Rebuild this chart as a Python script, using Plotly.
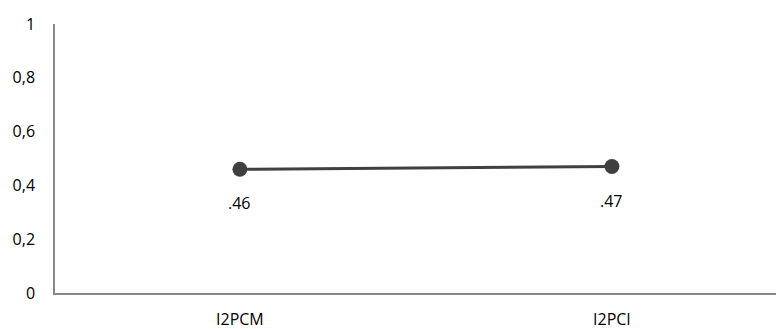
import plotly.graph_objects as go

categories = ["I2PCM", "I2PCI"]
values = [0.46, 0.47]
value_labels = [".46", ".47"]
y_ticks = [0, 0.2, 0.4, 0.6, 0.8, 1]
y_tick_labels = ["0", "0,2", "0,4", "0,6", "0,8", "1"]

FONT = "Open Sans"

fig = go.Figure()
fig.add_trace(go.Scatter(
    x=categories, y=values, mode="lines+markers",
    line=dict(color="#404040", width=3),
    marker=dict(color="#404040", size=15),
    hoverinfo="skip", showlegend=False,
))
for c, v, t in zip(categories, values, value_labels):
    fig.add_annotation(x=c, y=v, text=t, showarrow=False, yshift=-34,
                       font=dict(family=FONT, size=16, color="#000000"))

fig.update_layout(
    width=784, height=329,
    margin=dict(l=47, r=0, t=16, b=44),
    paper_bgcolor="white", plot_bgcolor="white",
    font=dict(family=FONT, size=16, color="#000000"),
)
fig.update_xaxes(
    type="category", range=[-0.497, 1.484],
    showline=True, linecolor="#898989", linewidth=1.5,
    showgrid=False, zeroline=False, ticks="", ticklabelstandoff=11,
)
fig.update_yaxes(
    range=[0, 1], tickvals=y_ticks, ticktext=y_tick_labels,
    showline=True, linecolor="#898989", linewidth=1.5,
    showgrid=False, zeroline=False, ticks="", ticklabelstandoff=15,
)
fig.write_html("out.html")
